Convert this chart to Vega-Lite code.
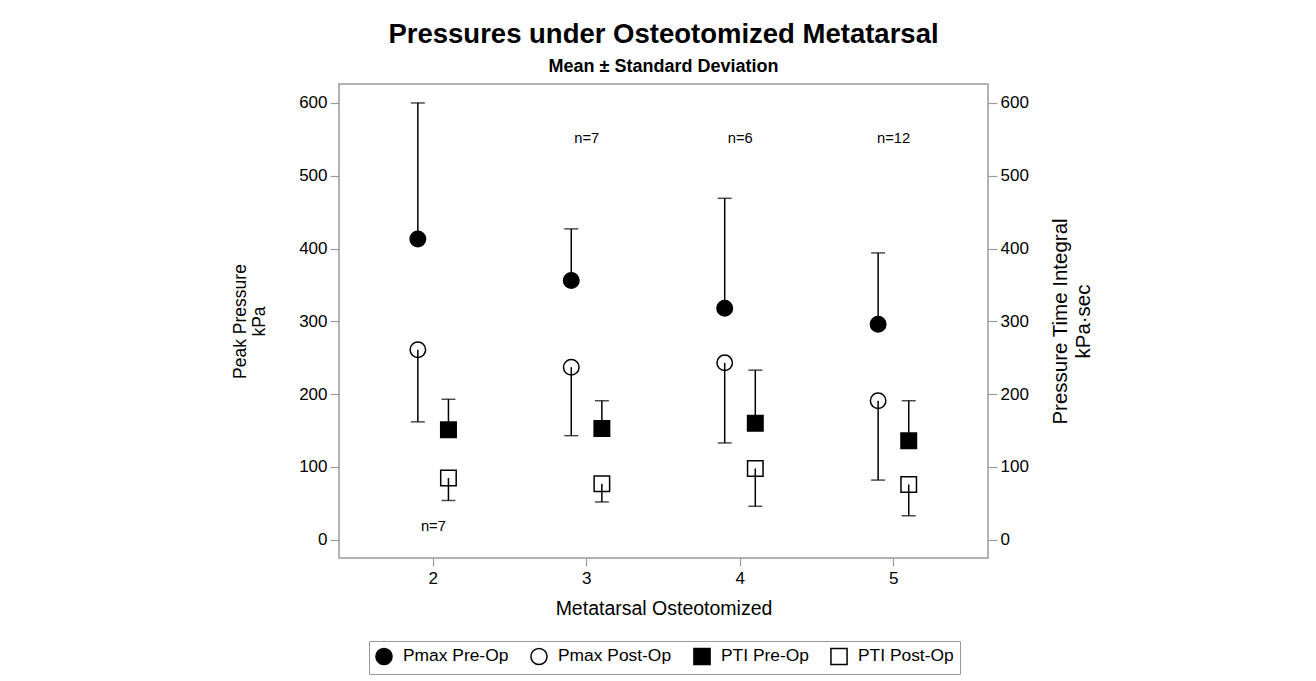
{
  "$schema": "https://vega.github.io/schema/vega-lite/v6.json",
  "autosize": {"type": "none"},
  "width": 649,
  "height": 474,
  "padding": {"left": 339, "top": 84, "right": 328, "bottom": 123},
  "background": "white",
  "title": {
    "text": "Pressures under Osteotomized Metatarsal",
    "subtitle": "Mean ± Standard Deviation",
    "font": "Liberation Sans",
    "fontSize": 27.5,
    "fontWeight": "bold",
    "color": "black",
    "subtitleFont": "Liberation Sans",
    "subtitleFontSize": 18,
    "subtitleFontWeight": "bold",
    "subtitleColor": "black",
    "anchor": "middle",
    "offset": 8,
    "subtitlePadding": 10
  },
  "datasets": {
    "stats": [
      {"met": 2, "grp": "Pmax", "series": "Pmax Pre-Op", "mean": 413, "bound": 600},
      {"met": 2, "grp": "Pmax", "series": "Pmax Post-Op", "mean": 261, "bound": 162},
      {"met": 2, "grp": "PTI", "series": "PTI Pre-Op", "mean": 151, "bound": 193},
      {"met": 2, "grp": "PTI", "series": "PTI Post-Op", "mean": 85, "bound": 54},
      {"met": 3, "grp": "Pmax", "series": "Pmax Pre-Op", "mean": 356, "bound": 427},
      {"met": 3, "grp": "Pmax", "series": "Pmax Post-Op", "mean": 237, "bound": 143},
      {"met": 3, "grp": "PTI", "series": "PTI Pre-Op", "mean": 153, "bound": 191},
      {"met": 3, "grp": "PTI", "series": "PTI Post-Op", "mean": 77, "bound": 52},
      {"met": 4, "grp": "Pmax", "series": "Pmax Pre-Op", "mean": 318, "bound": 469},
      {"met": 4, "grp": "Pmax", "series": "Pmax Post-Op", "mean": 243, "bound": 133},
      {"met": 4, "grp": "PTI", "series": "PTI Pre-Op", "mean": 160, "bound": 233},
      {"met": 4, "grp": "PTI", "series": "PTI Post-Op", "mean": 98, "bound": 46},
      {"met": 5, "grp": "Pmax", "series": "Pmax Pre-Op", "mean": 296, "bound": 394},
      {"met": 5, "grp": "Pmax", "series": "Pmax Post-Op", "mean": 191, "bound": 82},
      {"met": 5, "grp": "PTI", "series": "PTI Pre-Op", "mean": 136, "bound": 191},
      {"met": 5, "grp": "PTI", "series": "PTI Post-Op", "mean": 76, "bound": 33}
    ],
    "labels": [
      {"met": 2, "label": "n=7", "yv": 18},
      {"met": 3, "label": "n=7", "yv": 550},
      {"met": 4, "label": "n=6", "yv": 550},
      {"met": 5, "label": "n=12", "yv": 550}
    ]
  },
  "encoding": {
    "x": {
      "field": "met",
      "type": "ordinal",
      "scale": {"type": "band", "paddingInner": 0, "paddingOuter": 0.115},
      "axis": {
        "title": "Metatarsal Osteotomized",
        "labelAngle": 0,
        "labelFontSize": 17,
        "titleFontSize": 19.5,
        "tickSize": 8,
        "labelPadding": 4,
        "titlePadding": 13
      }
    }
  },
  "layer": [
    {
      "data": {"name": "stats"},
      "transform": [{"filter": "datum.grp === 'Pmax'"}],
      "encoding": {
        "xOffset": {"field": "grp", "type": "nominal", "scale": {"type": "point", "domain": ["Pmax", "PTI"], "range": [61.2, 91.8], "padding": 0}}
      },
      "layer": [
        {
          "mark": {"type": "point", "filled": true, "size": 240, "strokeWidth": 1.5, "opacity": 1},
          "encoding": {
            "y": {"field": "mean", "type": "quantitative", "scale": {"domain": [-25, 626], "nice": false, "zero": false}, "title": ["Peak Pressure", "kPa"], "axis": {"orient": "left", "values": [0, 100, 200, 300, 400, 500, 600], "titlePadding": 30, "titleFontSize": 17.5}},
            "shape": {"field": "series", "type": "nominal", "scale": {"domain": ["Pmax Pre-Op", "Pmax Post-Op", "PTI Pre-Op", "PTI Post-Op"], "range": ["circle", "circle", "square", "square"]}, "legend": {"title": null}},
            "fill": {"field": "series", "type": "nominal", "scale": {"domain": ["Pmax Pre-Op", "Pmax Post-Op", "PTI Pre-Op", "PTI Post-Op"], "range": ["black", "white", "black", "white"]}, "legend": {"title": null}},
            "stroke": {"field": "series", "type": "nominal", "scale": {"domain": ["Pmax Pre-Op", "Pmax Post-Op", "PTI Pre-Op", "PTI Post-Op"], "range": ["black", "black", "black", "black"]}, "legend": {"title": null}}
          }
        },
        {
          "mark": {"type": "rule", "strokeWidth": 1.5, "color": "black"},
          "encoding": {
            "y": {"field": "mean", "type": "quantitative", "title": ["Peak Pressure", "kPa"]},
            "y2": {"field": "bound"}
          }
        },
        {
          "mark": {"type": "tick", "orient": "horizontal", "size": 14, "thickness": 1.5, "color": "black"},
          "encoding": {
            "y": {"field": "bound", "type": "quantitative", "title": ["Peak Pressure", "kPa"]}
          }
        },
        {
          "data": {"name": "labels"},
          "transform": [],
          "mark": {"type": "text", "font": "Liberation Sans", "fontSize": 14.7, "color": "black"},
          "encoding": {
            "xOffset": null,
            "y": {"field": "yv", "type": "quantitative", "title": ["Peak Pressure", "kPa"]},
            "text": {"field": "label"}
          }
        }
      ]
    },
    {
      "data": {"name": "stats"},
      "transform": [{"filter": "datum.grp === 'PTI'"}],
      "encoding": {
        "xOffset": {"field": "grp", "type": "nominal", "scale": {"type": "point", "domain": ["Pmax", "PTI"], "range": [61.2, 91.8], "padding": 0}}
      },
      "layer": [
        {
          "mark": {"type": "point", "filled": true, "size": 240, "strokeWidth": 1.5, "opacity": 1},
          "encoding": {
            "y": {"field": "mean", "type": "quantitative", "scale": {"domain": [-25, 626], "nice": false, "zero": false}, "title": ["Pressure Time Integral", "kPa·sec"], "axis": {"orient": "right", "values": [0, 100, 200, 300, 400, 500, 600], "titleAngle": 270, "titlePadding": 20, "titleFontSize": 20.5}},
            "shape": {"field": "series", "type": "nominal", "legend": {"title": null}},
            "fill": {"field": "series", "type": "nominal", "legend": {"title": null}},
            "stroke": {"field": "series", "type": "nominal", "legend": {"title": null}}
          }
        },
        {
          "mark": {"type": "rule", "strokeWidth": 1.5, "color": "black"},
          "encoding": {
            "y": {"field": "mean", "type": "quantitative", "title": ["Pressure Time Integral", "kPa·sec"]},
            "y2": {"field": "bound"}
          }
        },
        {
          "mark": {"type": "tick", "orient": "horizontal", "size": 14, "thickness": 1.5, "color": "black"},
          "encoding": {
            "y": {"field": "bound", "type": "quantitative", "title": ["Pressure Time Integral", "kPa·sec"]}
          }
        }
      ]
    }
  ],
  "resolve": {"scale": {"y": "independent"}, "axis": {"y": "independent"}},
  "config": {
    "font": "Liberation Sans",
    "view": {"stroke": "#9a9a9a", "strokeWidth": 1.5},
    "axis": {
      "domain": false,
      "grid": false,
      "tickColor": "#9a9a9a",
      "tickWidth": 1.2,
      "tickSize": 9,
      "labelColor": "black",
      "titleColor": "black",
      "labelFont": "Liberation Sans",
      "titleFont": "Liberation Sans",
      "labelFontSize": 17,
      "titleFontSize": 17,
      "titleFontWeight": "normal",
      "labelPadding": 3
    },
    "legend": {
      "orient": "none",
      "legendX": 30,
      "legendY": 557,
      "direction": "horizontal",
      "strokeColor": "#9a9a9a",
      "padding": 6,
      "labelFont": "Liberation Sans",
      "labelFontSize": 17.4,
      "labelColor": "black",
      "symbolSize": 260,
      "symbolStrokeWidth": 1.5,
      "columnPadding": 18,
      "labelOffset": 10
    }
  }
}
